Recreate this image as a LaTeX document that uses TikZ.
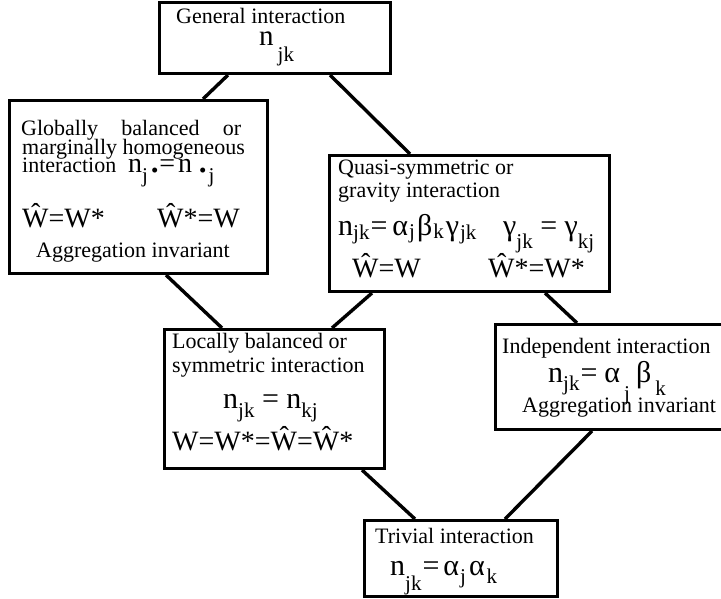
\documentclass[tikz,border=0pt]{standalone}
\usepackage{fontspec}
\setmainfont{Liberation Serif}
\usetikzlibrary{calc}
\newcommand\fsz[1]{\fontsize{#1bp}{#1bp}\selectfont}
\newcommand\lowsub[2]{\raisebox{-#1bp}{\fsz{21}#2}}
\newcommand\hs[1]{\hspace{#1bp}}
\begin{document}
\begin{tikzpicture}[x=1bp,y=-1bp,
  box/.style={draw, line width=3bp, rectangle, inner sep=0pt, anchor=north west},
  link/.style={line width=3.4bp},
  txt/.style={anchor=base west, inner sep=0pt, font=\fsz{22}},
  txtc/.style={anchor=base, inner sep=0pt, font=\fsz{22}}]
\useasboundingbox (0,0) rectangle (721,599);
% boxes
\node[box, minimum width=231bp, minimum height=70.5bp] (top) at (158,1.5) {};
\node[box, minimum width=258bp, minimum height=173bp] (glob) at (8,99) {};
\node[box, minimum width=280bp, minimum height=136bp] (quasi) at (328,154) {};
\node[box, minimum width=220bp, minimum height=139bp] (loc) at (163,328) {};
\node[box, minimum width=246bp, minimum height=105bp] (ind) at (494,323) {};
\node[box, minimum width=193bp, minimum height=76bp] (triv) at (363,519) {};
% connectors
\draw[link] ($(top.south west)+(70,0)$) -- ($(glob.north west)+(195,0)$);
\draw[link] ($(top.south west)+(172,0)$) -- ($(quasi.north west)+(82,0)$);
\draw[link] ($(glob.south west)+(158,0)$) -- ($(loc.north west)+(59,0)$);
\draw[link] ($(quasi.south west)+(44,0)$) -- ($(loc.north west)+(169,0)$);
\draw[link] ($(quasi.south west)+(217,0)$) -- ($(ind.north west)+(83,0)$);
\draw[link] ($(loc.south west)+(199,0)$) -- ($(triv.north west)+(52,0)$);
\draw[link] ($(ind.south west)+(98,0)$) -- ($(triv.north west)+(142,0)$);
% top box
\node[txt] (t1) at (176,24) {General interaction};
\node[txt] (t2) at (259,46) {\fsz{29}n\hs{4}\lowsub{16}{jk}};
% globally
\node[txt] (g1) at (21,136) {\makebox[220bp][s]{Globally balanced or}};
\node[txt] (g2) at (22,155) {marginally homogeneous};
\node[txt] (g3) at (22,173) {interaction};
\node[txt] (g4) at (128,173) {\fsz{28}n\lowsub{10}{j}\hs{3}\raisebox{-5bp}{\fsz{21}•}\hs{1}=\hs{3}n\hs{7}\raisebox{-5bp}{\fsz{21}•}\hs{2}\lowsub{10}{j}};
\node[txt] (g5) at (22,227) {\fsz{28}Ŵ=W*};
\node[txt] (g6) at (157,227) {\fsz{28}Ŵ*=W};
\node[txtc] (g7) at (133,257) {Aggregation invariant};
% quasi
\node[txt] (q1) at (338,175) {Quasi-symmetric or};
\node[txt] (q2) at (338,198) {gravity interaction};
\node[txt] (q3) at (338,235) {\fsz{30}n\lowsub{4}{jk}\hs{1}=\hs{5}α\hs{1}\lowsub{3}{j}\hs{2}β\hs{1}\lowsub{3}{k}\hs{2}γ\hs{1}\lowsub{4}{jk}};
\node[txt] (q4) at (503,235) {\fsz{30}γ\lowsub{13}{jk} = γ\lowsub{13}{kj}};
\node[txt] (q5) at (352,277) {\fsz{28}Ŵ=W};
\node[txt] (q6) at (488,277) {\fsz{28}Ŵ*=W*};
% locally
\node[txt] (l1) at (172,348) {Locally balanced or};
\node[txt] (l2) at (172,372) {symmetric interaction};
\node[txt] (l3) at (223,408) {\fsz{30}n\lowsub{9}{jk} = n\lowsub{9}{kj}};
\node[txt] (l4) at (172,450) {\fsz{28}W=W*=Ŵ=Ŵ*};
% independent
\node[txt] (i1) at (502,353) {Independent interaction};
\node[txt] (i2) at (548,382) {\fsz{30}n\lowsub{8}{jk}\hs{1}=\hs{7}α\hs{4}\lowsub{18}{j}\hs{6}β\hs{4}\lowsub{13}{k}};
\node[txt] (i3) at (522,412) {Aggregation invariant};
% trivial
\node[txt] (r1) at (375,543) {Trivial interaction};
\node[txt] (r2) at (390,575) {\fsz{30}n\lowsub{15}{jk}\hs{1}=\hs{4}α\hs{1}\lowsub{8}{j}\hs{3}α\hs{2}\lowsub{8}{k}};
\end{tikzpicture}
\end{document}
